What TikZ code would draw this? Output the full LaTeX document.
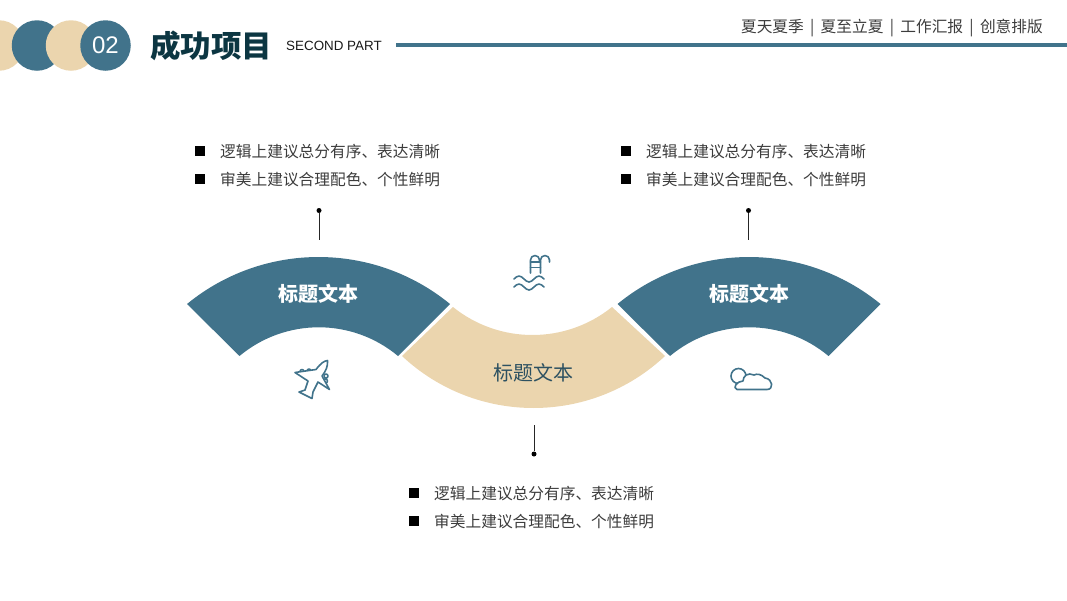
\documentclass[tikz,border=0pt]{standalone}
\usepackage{fontspec}
\setmainfont{Noto Sans CJK SC}
\newfontfamily\latinfont{Liberation Sans}
\usepackage{xcolor}
\definecolor{tealblue}{HTML}{41738B}
\definecolor{sand}{HTML}{EBD5AE}
\definecolor{darkteal}{HTML}{0C3642}
\definecolor{bodygray}{HTML}{3C3C3C}

\begin{document}
\begin{tikzpicture}[x=1pt,y=-1pt,thin,
      bodytext/.style={anchor=west,inner sep=0mm,text=bodygray,font=\fontsize{15.7}{18}\selectfont},
      bullet/.style={rectangle,fill=black,minimum size=9.5pt,inner sep=0mm},
      badge/.style={circle,minimum size=50.5pt,inner sep=0mm},
      tick/.style={circle,fill=black,minimum size=5pt,inner sep=0mm},
      stem/.style={draw=black!85,line width=1pt},
      bandtext/.style={font=\fontsize{20}{24}\selectfont},
      iconline/.style={draw=tealblue,line width=1.6pt,line cap=round,line join=round,fill=white}]

      \useasboundingbox (0,0) rectangle (1067,600);

      % header
      \node[badge,fill=sand] (circle1) at (-1,45.5) {};
      \node[badge,fill=tealblue] (circle2) at (37,45.5) {};
      \node[badge,fill=sand] (circle3) at (71,45.5) {};
      \node[badge,fill=tealblue,text=white,font=\latinfont\fontsize{24}{28}\selectfont] (circle4) at (105.5,45.5) {02};
      \node[anchor=west,inner sep=0mm,text=darkteal,font=\fontsize{30.5}{34}\bfseries\selectfont] (title) at (150,46) {成功项目};
      \node[anchor=west,inner sep=0mm,text=black!90,font=\latinfont\fontsize{13.4}{16}\selectfont] (subtitle) at (286,45.5) {SECOND PART};
      \coordinate (ruleL) at (396,44.5);
      \coordinate (ruleR) at (1067,44.5);
      \draw[tealblue,line width=4pt] (ruleL) -- (ruleR);
      \node[anchor=east,inner sep=0mm,text=bodygray,font=\fontsize{15.7}{18}\selectfont] (crumbs) at (1043,28)
        {夏天夏季\hspace{6.3pt}|\hspace{6.3pt}夏至立夏\hspace{6.3pt}|\hspace{6.3pt}工作汇报\hspace{6.3pt}|\hspace{6.3pt}创意排版};

      % the three bands
      \fill[tealblue] (187,304) arc[start angle=-129.33,end angle=-50.67,radius=207.5]
        -- (398,356) arc[start angle=-50.16,end angle=-129.84,radius=123.7] -- cycle;
      \fill[sand] (402,356) arc[start angle=133.15,end angle=46.85,radius=192.3]
        -- (612,307) arc[start angle=51.2,end angle=128.8,radius=126.9] -- cycle;
      \fill[tealblue] (617.5,304) arc[start angle=-129.33,end angle=-50.67,radius=207.5]
        -- (828.5,356) arc[start angle=-50.16,end angle=-129.84,radius=123.7] -- cycle;
      \node[bandtext,text=white] (bandL) at (318,294) {\bfseries 标题文本};
      \node[bandtext,text=tealblue!70!black] (bandM) at (533,372.5) {标题文本};
      \node[bandtext,text=white] (bandR) at (749,294) {\bfseries 标题文本};

      % stems
      \node[tick] (tickL) at (319,210.5) {};
      \coordinate (stemL) at (319,240);
      \draw[stem] (tickL) -- (stemL);
      \node[tick] (tickR) at (748.5,210.5) {};
      \coordinate (stemR) at (748.5,240);
      \draw[stem] (tickR) -- (stemR);
      \node[tick] (tickM) at (534,454) {};
      \coordinate (stemM) at (534,424.5);
      \draw[stem] (tickM) -- (stemM);

      % bullet lists
      \node[bullet] (bulletL1) at (200,151) {};
      \node[bodytext] (textL1) at (220,152) {逻辑上建议总分有序、表达清晰};
      \node[bullet] (bulletL2) at (200,179) {};
      \node[bodytext] (textL2) at (220,180) {审美上建议合理配色、个性鲜明};
      \node[bullet] (bulletR1) at (626,151) {};
      \node[bodytext] (textR1) at (646,152) {逻辑上建议总分有序、表达清晰};
      \node[bullet] (bulletR2) at (626,179) {};
      \node[bodytext] (textR2) at (646,180) {审美上建议合理配色、个性鲜明};
      \node[bullet] (bulletM1) at (414,493) {};
      \node[bodytext] (textM1) at (434,494) {逻辑上建议总分有序、表达清晰};
      \node[bullet] (bulletM2) at (414,521) {};
      \node[bodytext] (textM2) at (434,522) {审美上建议合理配色、个性鲜明};

      % plane
      \draw[iconline] (302,371.5) circle (2pt) (309,371) circle (2pt) (325.5,381) circle (2pt) (326,376) circle (2pt);
      \draw[iconline] (327.5,360.5) .. controls (324,361) and (321,363) .. (316,369.5) -- (295,372.5) -- (308,381) -- (305,390)
        -- (299,392) -- (312,398.5) -- (313,392) -- (318,382) -- (329.5,389.5) -- (322,376)
        .. controls (326,371) and (328,366) .. cycle;

      % pool ladder and waves
      \draw[iconline,fill=none] (530.5,273) -- (530.5,260) arc[start angle=180,end angle=360,radius=4.5] -- (539.5,262);
      \draw[iconline,fill=none] (540.5,273) -- (540.5,260) arc[start angle=180,end angle=360,radius=4.5] -- (549.5,262);
      \draw[iconline,fill=none] (530.5,262) -- (540.5,262) (530.5,267.5) -- (540.5,267.5);
      \draw[iconline,fill=none] (514,279) sin (519,276) cos (524,279) sin (529,282) cos (534,279) sin (539,276) cos (544,279);
      \draw[iconline,fill=none] (514,287) sin (519,284) cos (524,287) sin (529,290) cos (534,287) sin (539,284) cos (544,287);

      % cloud
      \draw[iconline] (738.5,376) circle (7.5pt);
      \draw[iconline] (737,389.5) -- (767,389.5) .. controls (774,389.5) and (773,379) .. (765,378)
        .. controls (761,374) and (757,373.5) .. (754,375) .. controls (748,372) and (743,376) .. (743,381)
        .. controls (737,381) and (732,388) .. (737,389.5) -- cycle;
\end{tikzpicture}
\end{document}
